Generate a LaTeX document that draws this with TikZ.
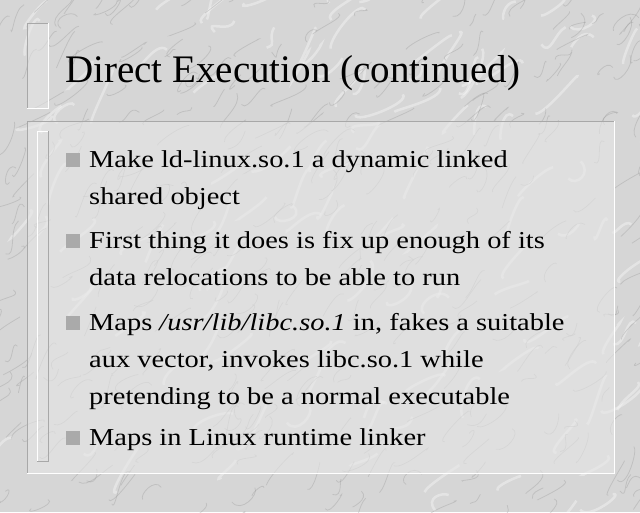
\documentclass[tikz,border=0pt]{standalone}
\usepackage{fontspec}
\setmainfont{Liberation Serif}
\newfontfamily\bodyfont[FakeStretch=1.17]{Liberation Serif}
\definecolor{marble}{HTML}{D6D6D6}
\definecolor{panelfill}{HTML}{E6E6E6}
\definecolor{edgegray}{HTML}{A8A8A8}
\definecolor{bulletgray}{HTML}{AAAAAA}
\definecolor{veingray}{HTML}{909090}
\tikzset{
  bodytext/.style={anchor=base west, inner sep=0pt, font=\bodyfont\fontsize{24.3}{37}\selectfont, text=black},
  titletext/.style={anchor=base west, inner sep=0pt, font=\fontsize{39}{48}\selectfont, text=black},
  bulletbox/.style={fill=bulletgray, draw=none, minimum size=14pt, inner sep=0pt, anchor=south west},
  lightedge/.style={draw=white, line width=1pt},
  darkedge/.style={draw=edgegray, line width=1pt},
  vein/.style={draw=veingray, line width=0.8pt, opacity=0.3},
  whitevein/.style={draw=white, line width=2.5pt, opacity=0.35}
}
\begin{document}
\begin{tikzpicture}[x=1pt,y=-1pt]
\useasboundingbox (0,0) rectangle (640,512);
\fill[marble] (0,0) rectangle (640,512);
% marble texture
\pgfmathsetseed{11}
\foreach \i in {1,...,140}{
  \pgfmathsetmacro\xa{rnd*660-10}
  \pgfmathsetmacro\ya{rnd*530-10}
  \pgfmathsetmacro\ang{20+rnd*50}
  \pgfmathsetmacro\len{20+rnd*35}
  \pgfmathsetmacro\xb{\xa+\len*cos(\ang)}
  \pgfmathsetmacro\yb{\ya-\len*sin(\ang)}
  \draw[whitevein] (\xa,\ya) .. controls ({\xa+rand*14},{\ya+rand*14}) and ({\xb+rand*14},{\yb+rand*14}) .. (\xb,\yb);
}
\foreach \i in {1,...,380}{
  \pgfmathsetmacro\xa{rnd*660-10}
  \pgfmathsetmacro\ya{rnd*530-10}
  \pgfmathsetmacro\ang{25+rnd*45}
  \pgfmathsetmacro\len{12+rnd*28}
  \pgfmathsetmacro\xb{\xa+\len*cos(\ang)}
  \pgfmathsetmacro\yb{\ya-\len*sin(\ang)}
  \draw[vein] (\xa,\ya) .. controls ({\xa+rand*12},{\ya+rand*12}) and ({\xb+rand*12},{\yb+rand*12}) .. (\xb,\yb);
}
% title strip
\fill[panelfill,opacity=0.55] (27,23) rectangle (48,108);
\draw[darkedge] (27,108) -- (27,23) -- (48,23);
\draw[lightedge] (48,23) -- (48,108) -- (27,108);
% body panel
\fill[panelfill,opacity=0.6] (27,121) rectangle (614,473);
\draw[darkedge] (27,473) -- (27,121) -- (614,121);
\draw[lightedge] (614,121) -- (614,473) -- (27,473);
% inner strip
\draw[lightedge] (37,461) -- (37,131) -- (48,131);
\draw[darkedge] (48,131) -- (48,461) -- (37,461);
% title
\node[titletext] (title) at (65,82) {Direct Execution (continued)};
% bullets
\node[bulletbox] (b1) at (66,167) {};
\node[bodytext] (t1a) at (89,167) {Make ld-linux.so.1 a dynamic linked};
\node[bodytext] (t1b) at (89,204) {shared object};
\node[bulletbox] (b2) at (66,248) {};
\node[bodytext] (t2a) at (89,248) {First thing it does is fix up enough of its};
\node[bodytext] (t2b) at (89,285) {data relocations to be able to run};
\node[bulletbox] (b3) at (66,330) {};
\node[bodytext] (t3a) at (89,330) {Maps \textit{/usr/lib/libc.so.1} in, fakes a suitable};
\node[bodytext] (t3b) at (89,367) {aux vector, invokes libc.so.1 while};
\node[bodytext] (t3c) at (89,404) {pretending to be a normal executable};
\node[bulletbox] (b4) at (66,445) {};
\node[bodytext] (t4a) at (89,445) {Maps in Linux runtime linker};
\end{tikzpicture}
\end{document}
